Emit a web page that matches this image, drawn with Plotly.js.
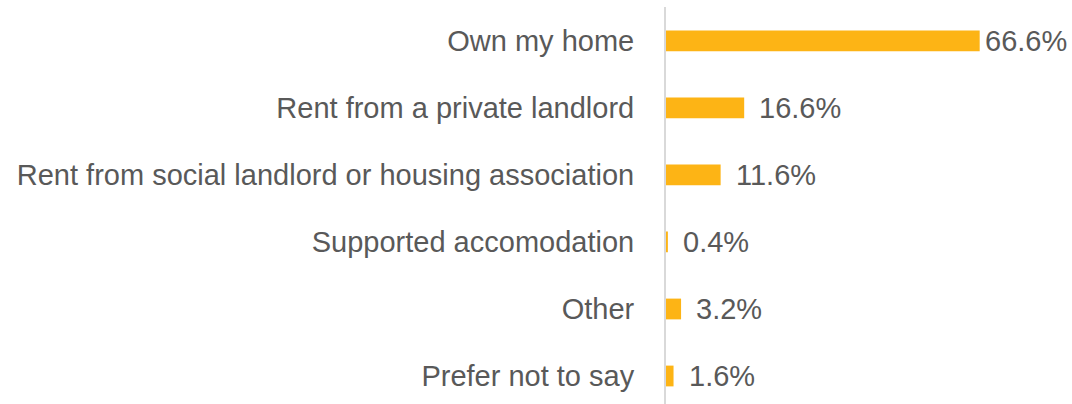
<!DOCTYPE html>
<html>
<head>
<meta charset="utf-8">
<script src="https://cdn.plot.ly/plotly-3.0.1.min.js"></script>
<style>html,body{margin:0;padding:0;background:#fff;}#chart{width:1072px;height:404px;}</style>
</head>
<body>
<div id="chart"></div>
<script>
const categories = ["Own my home", "Rent from a private landlord", "Rent from social landlord or housing association", "Supported accomodation", "Other", "Prefer not to say"];
const values = [66.6, 16.6, 11.6, 0.4, 3.2, 1.6];
const valueLabels = ["66.6%", "16.6%", "11.6%", "0.4%", "3.2%", "1.6%"];

const textColor = "#595959";
const fontFam = "Liberation Sans, Arial, sans-serif";

const trace = {
  type: "bar",
  orientation: "h",
  x: values,
  y: categories,
  width: 0.31,
  marker: {color: "#FDB415"},
  hoverinfo: "none"
};

const annotations = values.map((v, i) => ({
  x: v, y: categories[i], xref: "x", yref: "y",
  text: valueLabels[i], showarrow: false,
  xanchor: "left", xshift: i === 0 ? 3 : 13, yshift: 0,
  font: {family: fontFam, size: 29, color: textColor}
}));

const layout = {
  width: 1072, height: 404,
  margin: {l: 666, r: 0, t: 7, b: 0},
  paper_bgcolor: "#fff", plot_bgcolor: "#fff",
  showlegend: false,
  xaxis: {range: [0, 86.2], showgrid: false, zeroline: false, showticklabels: false, showline: false},
  yaxis: {
    type: "category",
    range: [5.418, -0.507],
    showgrid: false, zeroline: false,
    showline: true, linecolor: "#d9d9d9", linewidth: 2,
    ticks: "", ticklabelstandoff: 24,
    tickfont: {family: fontFam, size: 29, color: textColor}
  },
  annotations: annotations
};

Plotly.newPlot("chart", [trace], layout, {staticPlot: true, displayModeBar: false});
</script>
</body>
</html>
